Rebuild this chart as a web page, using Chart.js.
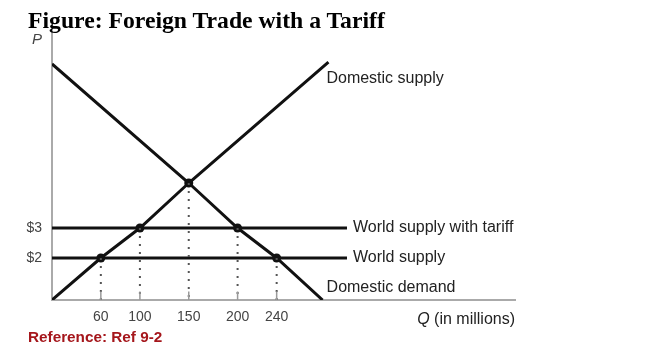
<!DOCTYPE html>
<html>
<head>
<meta charset="utf-8">
<script src="https://cdn.jsdelivr.net/npm/chart.js@4.4.1/dist/chart.umd.min.js"></script>
<style>
  html, body { margin: 0; padding: 0; background: #fff; }
  #wrap { position: relative; width: 650px; height: 361px; }
  #title { position: absolute; left: 28px; top: 7px; font-family: "Liberation Serif", "Times New Roman", serif; font-weight: bold; font-size: 23.7px; color: #000; white-space: nowrap; }
  #ref { position: absolute; left: 28px; top: 328px; font-family: "Liberation Sans", Arial, sans-serif; font-weight: bold; font-size: 15.3px; color: #a5161b; white-space: nowrap; }
  canvas { position: absolute; left: 0; top: 0; }
</style>
</head>
<body>
<div id="wrap">
  <canvas id="c" width="650" height="361"></canvas>
  <div id="title">Figure: Foreign Trade with a Tariff</div>
  <div id="ref">Reference: Ref 9-2</div>
</div>
<script>
// ---- data (Q in millions, P in $) ----
const qTicks = [60, 100, 150, 200, 240];
const priceTicks = [2, 3];
const supplyQ = [10, 60, 100, 150, 293];
const supplyP = [0.6, 2, 3, 4.5, 8.53];
const demandQ = [10, 150, 200, 240, 287];
const demandP = [8.47, 4.5, 3, 2, 0.6];
const worldQ = [10, 312];
const worldPrice = 2;
const tariffPrice = 3;
const markQ = [60, 100, 150, 200, 240];
const markP = [2, 3, 4.5, 3, 2];
const axisQ = [10, 484];
const axisP = [0.6, 9.6];
const seriesNames = ['Domestic supply', 'Domestic demand', 'World supply with tariff', 'World supply'];

const pts = (xs, ys) => xs.map((x, i) => ({x: x, y: Array.isArray(ys) ? ys[i] : ys}));

const dotted = [];
const tickMarks = [];
markQ.forEach((q, i) => {
  dotted.push({x: q, y: markP[i]}, {x: q, y: axisP[0]}, {x: q, y: null});
});
qTicks.forEach(q => {
  tickMarks.push({x: q, y: axisP[0]}, {x: q, y: axisP[0] + 0.28}, {x: q, y: null});
});

const SANS = '"Liberation Sans", Arial, sans-serif';

const labelPlugin = {
  id: 'lineLabels',
  afterDatasetsDraw(chart) {
    const ctx = chart.ctx;
    const xs = chart.scales.x, ys = chart.scales.y;
    const px = q => xs.getPixelForValue(q);
    const py = p => ys.getPixelForValue(p);
    ctx.save();
    ctx.fillStyle = '#222';
    ctx.font = '16px ' + SANS;
    ctx.textBaseline = 'middle';
    ctx.textAlign = 'left';
    const sN = supplyQ.length - 1;
    ctx.fillText(seriesNames[0], px(supplyQ[sN]) - 2, py(supplyP[sN]) + 16);
    const dN = demandQ.length - 1;
    ctx.fillText(seriesNames[1], px(demandQ[dN]) + 4, py(demandP[dN]) - 12);
    ctx.fillText(seriesNames[2], px(worldQ[1]) + 6, py(tariffPrice));
    ctx.fillText(seriesNames[3], px(worldQ[1]) + 6, py(worldPrice));
    // Axis titles
    ctx.font = 'italic 15px ' + SANS;
    ctx.textAlign = 'center';
    ctx.fillStyle = '#444';
    ctx.fillText('P', xs.left - 15, ys.top + 10);
    ctx.fillStyle = '#222';
    ctx.font = '16px ' + SANS;
    const rest = ' (in millions)';
    const wRest = ctx.measureText(rest).width;
    ctx.textAlign = 'right';
    const yq = ys.bottom + 20;
    ctx.fillText(rest, xs.right, yq);
    ctx.font = 'italic 16px ' + SANS;
    ctx.fillText('Q', xs.right - wRest, yq);
    ctx.restore();
  }
};

const black = '#111';
new Chart(document.getElementById('c'), {
  type: 'scatter',
  data: {
    datasets: [
      { label: 'ticks', data: tickMarks, showLine: true, spanGaps: false, borderColor: '#9a9a9a', borderWidth: 1.5, pointRadius: 0 },
      { label: 'drop', data: dotted, showLine: true, spanGaps: false, borderColor: '#555', borderWidth: 2, borderDash: [2, 6], pointRadius: 0 },
      { label: seriesNames[2], data: pts(worldQ, tariffPrice), showLine: true, borderColor: black, borderWidth: 3, pointRadius: 0 },
      { label: seriesNames[3], data: pts(worldQ, worldPrice), showLine: true, borderColor: black, borderWidth: 3, pointRadius: 0 },
      { label: seriesNames[0], data: pts(supplyQ, supplyP), showLine: true, borderColor: black, borderWidth: 3, pointRadius: 0 },
      { label: seriesNames[1], data: pts(demandQ, demandP), showLine: true, borderColor: black, borderWidth: 3, pointRadius: 0 },
      { label: 'marks', data: pts(markQ, markP), showLine: false, backgroundColor: black, borderColor: black, pointRadius: 4.5, pointBorderWidth: 0 }
    ]
  },
  options: {
    responsive: false,
    animation: false,
    events: [],
    layout: { padding: { top: 30, right: 135, bottom: 0, left: 0 } },
    plugins: { legend: { display: false }, tooltip: { enabled: false }, title: { display: false } },
    scales: {
      x: {
        type: 'linear', min: axisQ[0], max: axisQ[1],
        afterBuildTicks: s => { s.ticks = qTicks.map(v => ({value: v})); },
        afterFit: s => { s.height = 61; },
        grid: { display: false, drawTicks: false },
        border: { display: true, color: '#aaaaaa', width: 2 },
        ticks: { color: '#444', font: { family: SANS, size: 14 }, padding: 9, maxRotation: 0, autoSkip: false, callback: v => String(v) }
      },
      y: {
        type: 'linear', min: axisP[0], max: axisP[1],
        afterBuildTicks: s => { s.ticks = priceTicks.map(v => ({value: v})); },
        afterFit: s => { s.width = 52; },
        grid: { display: false, drawTicks: false },
        border: { display: true, color: '#aaaaaa', width: 2 },
        ticks: { color: '#444', font: { family: SANS, size: 14 }, padding: 10, callback: v => '$' + v }
      }
    }
  },
  plugins: [labelPlugin]
});
</script>
</body>
</html>
